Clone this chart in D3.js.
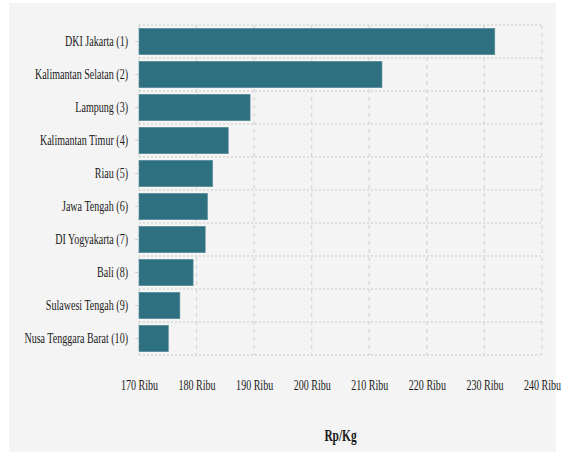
<!DOCTYPE html>
<html>
<head>
<meta charset="utf-8">
<script src="https://cdn.jsdelivr.net/npm/d3@7"></script>
<style>
  body { margin: 0; background: #ffffff; }
  svg text { font-family: "Liberation Serif", "DejaVu Serif", serif; fill: #1a1a1a; }
</style>
</head>
<body>
<script>
// Chart data
var provinces = ["DKI Jakarta (1)", "Kalimantan Selatan (2)", "Lampung (3)", "Kalimantan Timur (4)",
  "Riau (5)", "Jawa Tengah (6)", "DI Yogyakarta (7)", "Bali (8)", "Sulawesi Tengah (9)", "Nusa Tenggara Barat (10)"];
var prices = [231800, 212200, 189300, 185500, 182800, 181900, 181500, 179400, 177100, 175100];
var tickValues = [170000, 180000, 190000, 200000, 210000, 220000, 230000, 240000];

var svgWidth = 565;
var svgHeight = 452;
var margin = { top: 25, right: 23, bottom: 97, left: 139 };
var chartWidth = svgWidth - margin.left - margin.right;
var chartHeight = svgHeight - margin.top - margin.bottom;

// the text in the picture is squeezed horizontally
var squeeze = 0.67;

var svg = d3.select("body")
  .append("svg")
  .attr("width", svgWidth)
  .attr("height", svgHeight);

// Gray panel behind everything
svg.append("rect")
  .attr("x", 9)
  .attr("y", 3)
  .attr("width", 547)
  .attr("height", 449)
  .attr("fill", "#f4f4f4");

var chartGroup = svg.append("g")
  .attr("transform", `translate(${margin.left}, ${margin.top})`);

var xScale = d3.scaleLinear()
  .domain([170000, 240000])
  .range([0, chartWidth]);

var yScale = d3.scaleBand()
  .domain(provinces)
  .range([0, chartHeight])
  .paddingInner(0.2)
  .paddingOuter(0.1);

// Vertical dashed gridlines
chartGroup.selectAll(".vgrid")
  .data(tickValues)
  .enter()
  .append("line")
  .attr("x1", d => xScale(d))
  .attr("x2", d => xScale(d))
  .attr("y1", 0)
  .attr("y2", chartHeight)
  .attr("stroke", "#d6d6d6")
  .attr("stroke-width", 1.2)
  .attr("stroke-dasharray", "4,4");

// Horizontal dotted gridlines at band boundaries
var step = yScale.step();
var hLines = d3.range(provinces.length + 1).map(i => i * step);
chartGroup.selectAll(".hgrid")
  .data(hLines)
  .enter()
  .append("line")
  .attr("x1", 0)
  .attr("x2", chartWidth)
  .attr("y1", d => d)
  .attr("y2", d => d)
  .attr("stroke", "#d6d6d6")
  .attr("stroke-width", 1.5)
  .attr("stroke-dasharray", "2,2");

// Bars
chartGroup.selectAll(".bar")
  .data(provinces)
  .enter()
  .append("rect")
  .attr("x", xScale(170000))
  .attr("y", d => yScale(d))
  .attr("width", (d, i) => xScale(prices[i]) - xScale(170000))
  .attr("height", yScale.bandwidth())
  .attr("fill", "#2e6f80")
  .attr("stroke", "#5b8f9c")
  .attr("stroke-width", 0.6);

// Y axis
var leftAxis = d3.axisLeft(yScale).tickSize(4).tickPadding(7);
var yAxis = chartGroup.append("g").call(leftAxis);
yAxis.select(".domain").remove();
yAxis.selectAll(".tick line").attr("stroke", "#d0d0d0");
yAxis.selectAll("text")
  .style("font-size", "15px")
  .attr("x", -11 / squeeze)
  .attr("transform", `scale(${squeeze},1)`);

// X axis
var bottomAxis = d3.axisBottom(xScale)
  .tickValues(tickValues)
  .tickSize(0)
  .tickPadding(24)
  .tickFormat(d => (d / 1000) + " Ribu");
var xAxis = chartGroup.append("g")
  .attr("transform", `translate(0, ${chartHeight})`)
  .call(bottomAxis);
xAxis.select(".domain").remove();
xAxis.selectAll("text")
  .style("font-size", "15px")
  .attr("transform", `scale(${squeeze},1)`);

// X axis title
chartGroup.append("text")
  .attr("transform", `translate(${chartWidth / 2}, ${chartHeight + 86}) scale(${squeeze},1)`)
  .attr("text-anchor", "middle")
  .style("font-size", "17px")
  .style("font-weight", "bold")
  .text("Rp/Kg");
</script>
</body>
</html>
